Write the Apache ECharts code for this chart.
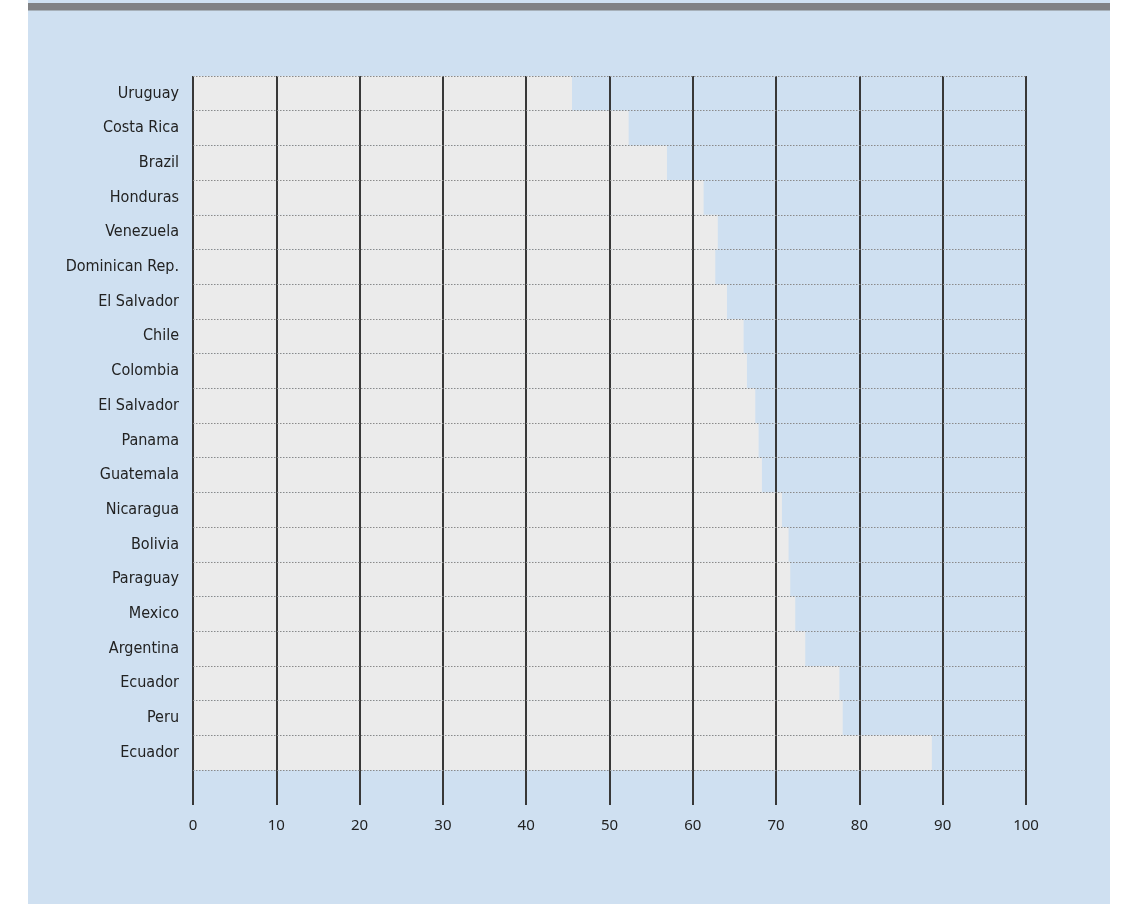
<!DOCTYPE html>
<html>
<head>
<meta charset="utf-8">
<style>
html,body{margin:0;padding:0;background:#ffffff;}
#chart{width:1125px;height:904px;}
</style>
<script src="https://cdn.jsdelivr.net/npm/echarts@6/dist/echarts.min.js"></script>
</head>
<body>
<div id="chart"></div>
<script>
// Data (top to bottom)
const countries = ['Uruguay','Costa Rica','Brazil','Honduras','Venezuela','Dominican Rep.','El Salvador','Chile','Colombia','El Salvador','Panama','Guatemala','Nicaragua','Bolivia','Paraguay','Mexico','Argentina','Ecuador','Peru','Ecuador'];
const values = [45.5, 52.3, 56.9, 61.3, 63.0, 62.7, 64.1, 66.1, 66.5, 67.5, 67.9, 68.3, 70.7, 71.5, 71.7, 72.3, 73.5, 77.6, 78.0, 88.7];
const xMin = 0, xMax = 100, xStep = 10;

const chart = echarts.init(document.getElementById('chart'), null, {renderer:'canvas'});
const dark = '#383838';
chart.setOption({
  backgroundColor: '#ffffff',
  animation: false,
  graphic: [
    {type:'rect', z:-10, silent:true, shape:{x:28, y:0, width:1082, height:904}, style:{fill:'#cfe0f1'}},
    {type:'rect', z:-9, silent:true, shape:{x:28, y:3, width:1082, height:7.5}, style:{fill:'#808184'}}
  ],
  grid: {left:193, right:99, top:76, height:694, containLabel:false},
  xAxis: {
    type:'value', min:xMin, max:xMax, interval:xStep, z:4,
    axisLine:{show:false},
    axisTick:{show:true, inside:false, length:35, lineStyle:{color:dark, width:2}},
    splitLine:{show:true, lineStyle:{color:dark, width:2}},
    axisLabel:{margin:48, color:'#222', fontSize:15, fontFamily:'Noto Sans', verticalAlign:'top'}
  },
  yAxis: {
    type:'category', inverse:true, data:countries, z:5,
    axisLine:{show:false}, axisTick:{show:false},
    splitLine:{show:true, lineStyle:{color:'#8a8a8a', width:1, type:[1.5,1.5]}},
    axisLabel:{margin:14, color:'#222', fontSize:16, fontFamily:'Liberation Sans Narrow, DejaVu Sans Condensed, sans-serif'}
  },
  series: [{
    type:'bar', data:values, barWidth:'100%', barGap:'0%', silent:true,
    itemStyle:{color:'#ebebeb'}
  }]
});
</script>
</body>
</html>
